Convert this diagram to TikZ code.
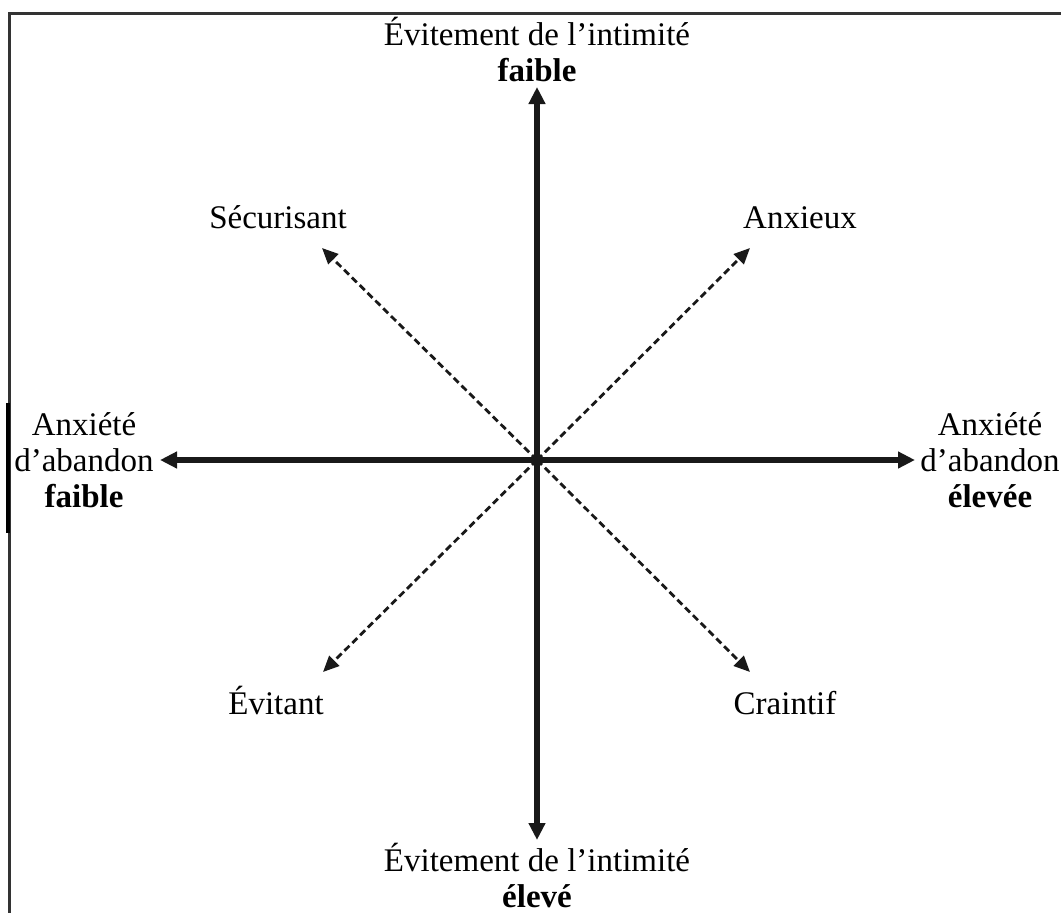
\documentclass[tikz,border=0pt]{standalone}
\usepackage{fontspec}
\setmainfont{Liberation Serif}
\usetikzlibrary{arrows.meta}

\begin{document}
\begin{tikzpicture}[x=1pt,y=-1pt,
  lab/.style = {inner sep=0pt, align=center, font=\fontsize{33}{36}\selectfont},
  axe/.style = {line width=5.5pt, black!90, -{Triangle[length=17pt,width=16pt]}},
  diag/.style = {line width=2.8pt, black!90, dash pattern=on 7pt off 4pt, -{Triangle[length=16pt,width=14pt]}},
  cadre/.style = {line width=3pt, black!80}]
\useasboundingbox (0,0) rectangle (1061,913);
% cadre
\draw[cadre] (9,913) -- (9,13) -- (1061,13);
\draw[line width=4pt] (8,403) -- (8,533);
% centre et extremites
\coordinate (c) at (537,460);
\coordinate (n) at (537,87);
\coordinate (s) at (537,840);
\coordinate (w) at (160,460);
\coordinate (e) at (915,460);
\coordinate (nw) at (322,248);
\coordinate (ne) at (750,248);
\coordinate (sw) at (323,672);
\coordinate (se) at (750,672);
% etiquettes
\node[lab] (haut) at (537,49) {Évitement de l’intimité\\\textbf{faible}};
\node[lab] (bas) at (537,875) {Évitement de l’intimité\\\textbf{élevé}};
\node[lab] (gauche) at (84,460) {Anxiété\\d’abandon\\\textbf{faible}};
\node[lab] (droite) at (990,460) {Anxiété\\d’abandon\\\textbf{élevée}};
\node[lab, anchor=base] (secur) at (278,228) {Sécurisant};
\node[lab, anchor=base] (anx) at (800,228) {Anxieux};
\node[lab, anchor=base] (evit) at (276,714) {Évitant};
\node[lab, anchor=base] (craint) at (785,714) {Craintif};
% axes
\draw[diag] (c) -- (nw);
\draw[diag] (c) -- (ne);
\draw[diag] (c) -- (sw);
\draw[diag] (c) -- (se);
\draw[axe] (c) -- (n);
\draw[axe] (c) -- (s);
\draw[axe] (c) -- (w);
\draw[axe] (c) -- (e);
\end{tikzpicture}
\end{document}
